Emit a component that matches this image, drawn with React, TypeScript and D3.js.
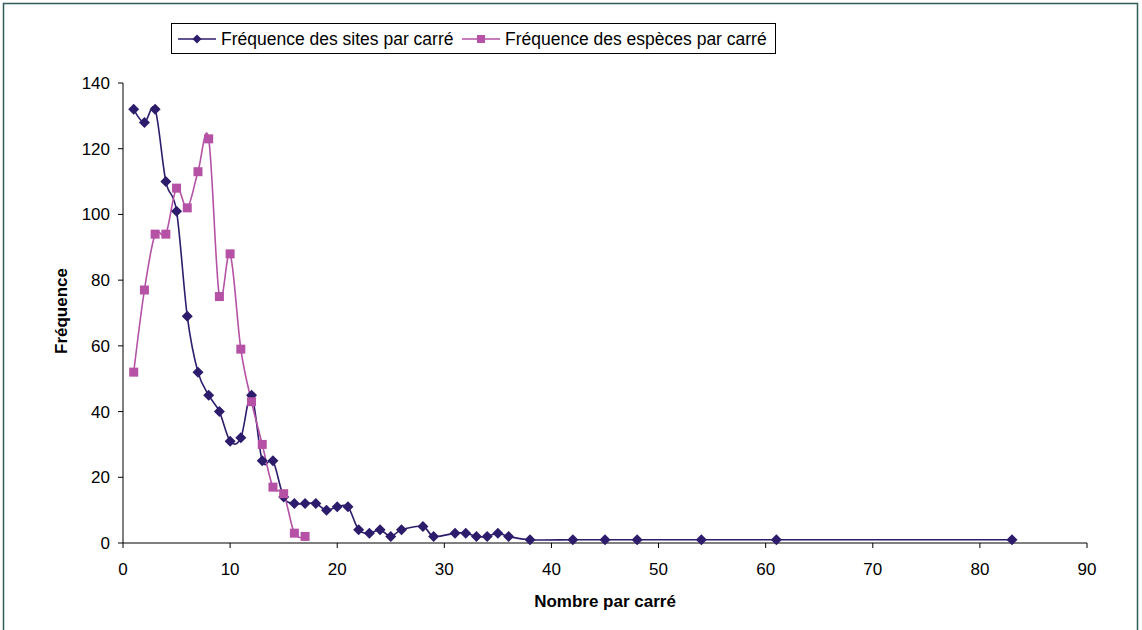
import React, { useEffect, useRef } from 'react';
import * as d3 from 'd3';

// Nombre par carré -> fréquence
const sitesX = [1, 2, 3, 4, 5, 6, 7, 8, 9, 10, 11, 12, 13, 14, 15, 16, 17, 18, 19, 20, 21, 22, 23, 24, 25, 26, 28, 29, 31, 32, 33, 34, 35, 36, 38, 42, 45, 48, 54, 61, 83];
const sitesY = [132, 128, 132, 110, 101, 69, 52, 45, 40, 31, 32, 45, 25, 25, 14, 12, 12, 12, 10, 11, 11, 4, 3, 4, 2, 4, 5, 2, 3, 3, 2, 2, 3, 2, 1, 1, 1, 1, 1, 1, 1];
const especesX = [1, 2, 3, 4, 5, 6, 7, 8, 9, 10, 11, 12, 13, 14, 15, 16, 17];
const especesY = [52, 77, 94, 94, 108, 102, 113, 123, 75, 88, 59, 43, 30, 17, 15, 3, 2];

const xTicks = [0, 10, 20, 30, 40, 50, 60, 70, 80, 90];
const yTicks = [0, 20, 40, 60, 80, 100, 120, 140];

const seriesNames = ['Fréquence des sites par carré', 'Fréquence des espèces par carré'];
const NAVY = '#2d1b6b';
const PINK = '#b552a6';
const FONT = '"Liberation Sans", Arial, sans-serif';

const App: React.FC = () => {
  const ref = useRef<SVGSVGElement>(null);

  useEffect(() => {
    if (!ref.current) return;
    const svg = d3.select(ref.current);
    svg.selectAll('*').remove();

    const x = d3.scaleLinear().domain([0, 90]).range([123, 1087]);
    const y = d3.scaleLinear().domain([0, 140]).range([543, 83]);

    // outer frame
    svg.append('rect').attr('x', 3.5).attr('y', 3.5).attr('width', 1134).attr('height', 640)
      .attr('fill', '#fff').attr('stroke', '#2f5d57').attr('stroke-width', 1.5);

    // y axis
    const gy = svg.append('g').attr('transform', 'translate(123,0)');
    gy.append('line').attr('y1', y(140)).attr('y2', y(0)).attr('stroke', '#000');
    yTicks.forEach(t => {
      gy.append('line').attr('x1', -5).attr('x2', 0).attr('y1', y(t)).attr('y2', y(t)).attr('stroke', '#000');
      gy.append('text').attr('x', -13).attr('y', y(t)).attr('dy', '0.35em')
        .attr('text-anchor', 'end').attr('font-size', 17).attr('font-family', FONT).text(t);
    });

    // x axis
    const gx = svg.append('g').attr('transform', 'translate(0,543)');
    gx.append('line').attr('x1', x(0)).attr('x2', x(90)).attr('stroke', '#000');
    xTicks.forEach(t => {
      gx.append('line').attr('x1', x(t)).attr('x2', x(t)).attr('y1', 0).attr('y2', 5).attr('stroke', '#000');
      gx.append('text').attr('x', x(t)).attr('y', 32)
        .attr('text-anchor', 'middle').attr('font-size', 17).attr('font-family', FONT).text(t);
    });

    // axis titles
    svg.append('text').attr('x', 605).attr('y', 607).attr('text-anchor', 'middle')
      .attr('font-size', 17).attr('font-weight', 'bold').attr('font-family', FONT).text('Nombre par carré');
    svg.append('text').attr('transform', 'translate(67,311) rotate(-90)').attr('text-anchor', 'middle')
      .attr('font-size', 17).attr('font-weight', 'bold').attr('font-family', FONT).text('Fréquence');

    const line = d3.line<[number, number]>()
      .x(d => x(d[0])).y(d => y(d[1]))
      .curve(d3.curveCatmullRom.alpha(0));

    const sites: [number, number][] = sitesX.map((v, i) => [v, sitesY[i]]);
    const especes: [number, number][] = especesX.map((v, i) => [v, especesY[i]]);

    const diamond = (cx: number, cy: number, r = 5.5) =>
      `M${cx},${cy - r}L${cx + r},${cy}L${cx},${cy + r}L${cx - r},${cy}Z`;

    svg.append('path').attr('d', line(sites)).attr('fill', 'none').attr('stroke', NAVY).attr('stroke-width', 1.6);
    svg.append('path').attr('d', line(especes)).attr('fill', 'none').attr('stroke', PINK).attr('stroke-width', 1.6);

    svg.append('g').selectAll('path').data(sites).enter().append('path')
      .attr('d', d => diamond(x(d[0]), y(d[1]))).attr('fill', NAVY);
    svg.append('g').selectAll('rect').data(especes).enter().append('rect')
      .attr('x', d => x(d[0]) - 4.5).attr('y', d => y(d[1]) - 4.5).attr('width', 9).attr('height', 9)
      .attr('fill', PINK);

    // legend
    const lg = svg.append('g');
    lg.append('rect').attr('x', 171.5).attr('y', 23.5).attr('width', 604).attr('height', 30)
      .attr('fill', '#fff').attr('stroke', '#000');
    const items = [
      { x0: 178, color: NAVY, marker: 'diamond' },
      { x0: 462, color: PINK, marker: 'square' },
    ];
    items.forEach((it, i) => {
      lg.append('line').attr('x1', it.x0).attr('x2', it.x0 + 38).attr('y1', 39).attr('y2', 39)
        .attr('stroke', it.color).attr('stroke-width', 1.6);
      if (it.marker === 'diamond') {
        lg.append('path').attr('d', diamond(it.x0 + 19, 39, 4.5)).attr('fill', it.color);
      } else {
        lg.append('rect').attr('x', it.x0 + 15).attr('y', 35).attr('width', 8).attr('height', 8).attr('fill', it.color);
      }
      lg.append('text').attr('x', it.x0 + 43).attr('y', 45).attr('font-size', 17.5)
        .attr('font-family', FONT).text(seriesNames[i]);
    });
  }, []);

  return (
    <svg ref={ref} width={1142} height={630}
      style={{ position: 'absolute', left: 0, top: 0, background: '#fff' }} />
  );
};

export default App;
